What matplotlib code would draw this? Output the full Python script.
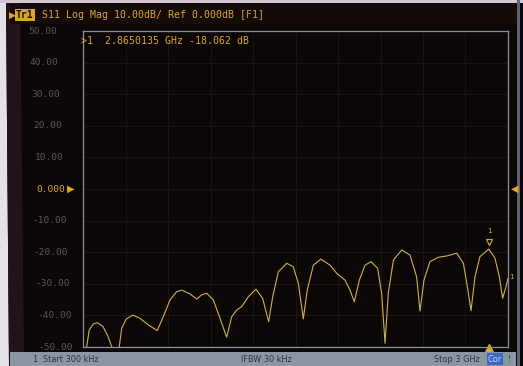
"""VNA screenshot: S11 Log Mag trace, 300 kHz - 3 GHz"""
import matplotlib.pyplot as plt
import matplotlib.transforms as mtransforms
from matplotlib.patches import Polygon, Rectangle
import numpy as np

# trace (GHz, dB)
freq_ghz = [0.0003, 0.026, 0.044, 0.073, 0.101, 0.139, 0.172, 0.203, 0.229, 0.256,
            0.273, 0.304, 0.351, 0.402, 0.461, 0.524, 0.567, 0.614, 0.661, 0.697,
            0.755, 0.803, 0.838, 0.873, 0.920, 0.967, 1.014, 1.050, 1.085, 1.120,
            1.167, 1.221, 1.268, 1.292, 1.311, 1.339, 1.379, 1.438, 1.484, 1.520,
            1.555, 1.583, 1.626, 1.678, 1.744, 1.791, 1.849, 1.885, 1.915, 1.951,
            1.991, 2.033, 2.080, 2.108, 2.132, 2.155, 2.191, 2.250, 2.308, 2.355,
            2.379, 2.407, 2.449, 2.508, 2.567, 2.638, 2.685, 2.713, 2.739, 2.767,
            2.802, 2.865, 2.908, 2.939, 2.962, 2.986, 3.000]
s11_db = [-51.9, -49.9, -44.6, -42.7, -42.3, -43.4, -46.2, -49.9, -52.8, -49.9,
          -44.1, -41.2, -39.9, -40.9, -43.0, -44.8, -40.4, -35.1, -32.5, -32.0,
          -33.2, -34.8, -33.5, -33.0, -35.1, -40.9, -46.9, -40.4, -38.3, -37.2,
          -34.1, -31.7, -34.6, -38.8, -42.0, -34.1, -26.2, -23.5, -24.6, -29.8,
          -41.1, -32.0, -24.1, -22.2, -24.1, -26.7, -28.8, -32.0, -35.7, -28.8,
          -24.1, -23.0, -25.1, -33.0, -48.8, -33.0, -22.5, -19.3, -20.9, -27.8,
          -38.6, -28.8, -23.0, -21.6, -21.2, -20.3, -23.5, -30.9, -38.5, -27.8,
          -21.4, -19.0, -21.9, -27.8, -34.6, -30.9, -28.3]

y_ticks = [50, 40, 30, 20, 10, 0, -10, -20, -30, -40, -50]
y_labels = ['50.00', '40.00', '30.00', '20.00', '10.00', '0.000',
            '-10.00', '-20.00', '-30.00', '-40.00', '-50.00']
marker_text = '>1  2.8650135 GHz -18.062 dB'
marker_freq = 2.865

W, H = 523, 366
SCREEN = '#0b0707'
TRACE = '#cfb050'
AMBER = '#d9a632'
GRID = '#1d1616'
MONO = 'DejaVu Sans Mono'
FOOT = '#2c3440'


def px(x, y):
    # pixel (top-left origin) -> figure fraction
    return x / W, 1 - y / H


fig = plt.figure(figsize=(W / 100, H / 100), dpi=100, facecolor=SCREEN)

# photo surroundings: white table edge, bezel, header band, footer bar
fig.patches.append(Polygon([px(0, 0), px(6, 0), px(9, 366), px(0, 366)],
                           closed=True, transform=fig.transFigure, fc='#e4e2e8', ec='none'))
fig.patches.append(Polygon([px(6, 0), px(20, 0), px(24, 352), px(9, 366)],
                           closed=True, transform=fig.transFigure, fc='#24121a', ec='none'))
fig.patches.append(Rectangle(px(0, 3), 1, 3 / H, transform=fig.transFigure,
                             fc='#cfc8d0', ec='none'))
fig.patches.append(Rectangle(px(10, 24), 510 / W, 20 / H, transform=fig.transFigure,
                             fc='#140b08', ec='none'))
fig.patches.append(Rectangle(px(10, 366), 506 / W, 14 / H, transform=fig.transFigure,
                             fc='#8a97a3', ec='none'))
fig.patches.append(Rectangle(px(517, 366), 3 / W, 366 / H, transform=fig.transFigure,
                             fc='#5c6472', ec='none'))

# header
fig.text(*px(9, 15), '\u25b6', color=AMBER, fontsize=6.5, va='center', ha='left')
fig.text(*px(16, 15), 'Tr1', color='#1a0e04', fontsize=7, family=MONO, va='center',
         ha='left', fontweight='bold',
         bbox=dict(boxstyle='square,pad=0.1', fc=AMBER, ec='none'))
fig.text(*px(42, 15), 'S11 Log Mag 10.00dB/ Ref 0.000dB [F1]', color=AMBER,
         fontsize=7.1, family=MONO, va='center', ha='left')

ax = fig.add_axes([83 / W, (H - 347) / H, 425 / W, 316 / H])
ax.set_facecolor(SCREEN)
ax.plot(freq_ghz, s11_db, color=TRACE, lw=0.8)
ax.set_xlim(0, 3.0)
ax.set_ylim(-50, 50)
ax.set_xticks(np.linspace(0, 3.0, 11))
ax.set_yticks(y_ticks)
ax.grid(True, color=GRID, lw=0.6)
ax.tick_params(length=0, labelbottom=False, labelleft=False)
for sp in ax.spines.values():
    sp.set_color('#8a90a0')
    sp.set_linewidth(0.9)

# marker 1 on the trace
i_mk = freq_ghz.index(marker_freq)
ax.plot([marker_freq], [s11_db[i_mk] + 2.3], marker='v', ms=5, mfc='none',
        mec=AMBER, mew=0.8, clip_on=False)
ax.text(marker_freq, s11_db[i_mk] + 4.8, '1', color=AMBER, fontsize=5.3,
        family=MONO, ha='center', va='bottom')
ax.text(3.01, s11_db[-1] + 0.5, '1', color=AMBER, fontsize=5.3, family=MONO,
        ha='left', va='center', clip_on=False)
ax.plot([marker_freq], [-50.3], marker='^', ms=6, color=AMBER, clip_on=False)

# marker readout
ax.text(-0.005, 0.985, marker_text, transform=ax.transAxes,
        color=AMBER, fontsize=7.1, family=MONO, ha='left', va='top')

# y labels (screen is seen slightly at an angle, so they drift right going down)
blend = mtransforms.blended_transform_factory(fig.transFigure, ax.transData)
for v, lab in zip(y_ticks, y_labels):
    xr = 57 + (50 - v) / 100 * 16
    col = AMBER if v == 0 else '#5e5454'
    fig.text(xr / W, v, lab, transform=blend, color=col, fontsize=6.8,
             family=MONO, ha='right', va='center')
fig.text(67 / W, 0, '\u25b6', transform=blend, color=AMBER, fontsize=7,
         ha='left', va='center')
fig.text(511 / W, 0, '\u25c0', transform=blend, color=AMBER, fontsize=7,
         ha='left', va='center')

# footer
fig.text(*px(32, 359), '1', color=FOOT, fontsize=5.9, va='center', ha='left')
fig.text(*px(43, 359), 'Start 300 kHz', color=FOOT, fontsize=5.9, va='center', ha='left')
fig.text(*px(266, 359), 'IFBW 30 kHz', color=FOOT, fontsize=5.9, va='center', ha='center')
fig.text(*px(480, 359), 'Stop 3 GHz', color=FOOT, fontsize=5.9, va='center', ha='right')
fig.text(*px(495, 359), 'Cor', color='#c8d4f0', fontsize=5.9, va='center', ha='center',
         bbox=dict(boxstyle='square,pad=0.15', fc='#3a66c8', ec='none'))
fig.text(*px(508, 359), '!', color=FOOT, fontsize=5.9, va='center', ha='left')

fig.savefig('out.png', dpi=100, facecolor=fig.get_facecolor())
